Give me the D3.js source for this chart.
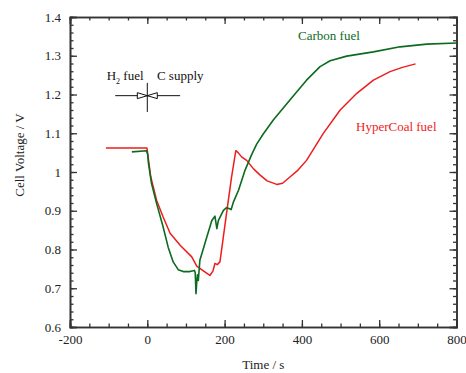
<!DOCTYPE html>
<html>
<head>
<meta charset="utf-8">
<script src="https://cdn.jsdelivr.net/npm/d3@7"></script>
<style>
  body { margin: 0; background: #fff; }
  svg text { font-family: "Liberation Serif", "DejaVu Serif", serif !important; }
</style>
</head>
<body>
<div id="chart"></div>
<script>
// values
var carbonTime = [-40, -2, 1, 3, 11, 24, 41, 54, 67, 80, 93, 110, 122, 124, 126, 128, 130, 132, 136, 145, 154, 167, 175, 180, 184, 197, 205, 213, 217, 223, 236, 253, 270, 283, 300, 326, 369, 412, 447, 473, 516, 585, 654, 723, 800];
var carbonVolt = [1.052, 1.055, 1.045, 1.022, 0.970, 0.919, 0.858, 0.806, 0.768, 0.748, 0.743, 0.743, 0.746, 0.740, 0.686, 0.716, 0.735, 0.720, 0.772, 0.802, 0.832, 0.875, 0.886, 0.854, 0.875, 0.901, 0.908, 0.905, 0.903, 0.923, 0.953, 1.005, 1.045, 1.072, 1.098, 1.134, 1.186, 1.237, 1.272, 1.287, 1.299, 1.310, 1.323, 1.330, 1.333];

var coalTime = [-107, -1, 2, 9, 24, 41, 59, 85, 115, 128, 145, 162, 170, 175, 181, 188, 205, 218, 229, 235, 244, 257, 275, 292, 310, 335, 350, 369, 390, 412, 455, 499, 542, 585, 628, 660, 694];
var coalVolt = [1.062, 1.062, 1.040, 0.987, 0.927, 0.884, 0.842, 0.811, 0.781, 0.757, 0.745, 0.733, 0.745, 0.764, 0.761, 0.768, 0.893, 0.987, 1.055, 1.050, 1.039, 1.030, 1.008, 0.992, 0.977, 0.968, 0.971, 0.987, 1.005, 1.030, 1.099, 1.160, 1.203, 1.237, 1.259, 1.270, 1.279];

var xTicks = [-200, 0, 200, 400, 600, 800];
var yTicks = [0.6, 0.7, 0.8, 0.9, 1.0, 1.1, 1.2, 1.3, 1.4];

var green = "#0b6b1e", red = "#ee1c1c", axisCol = "#333";
var serif = "'Liberation Serif', 'DejaVu Serif', serif";

var W = 466, H = 373;
var margin = {top: 17, right: 9.5, bottom: 46, left: 70}
  , width = W - margin.left - margin.right
  , height = H - margin.top - margin.bottom;

var svg = d3.select("#chart").append("svg")
    .attr("width", W)
    .attr("height", H)
    .style("font-family", serif)
  .append("g")
    .attr("transform", "translate(" + margin.left + "," + margin.top + ")");

var x = d3.scaleLinear().domain([-200, 800]).range([0, width]);
var y = d3.scaleLinear().domain([0.6, 1.4]).range([height, 0]);

var minorX = d3.range(-200, 801, 50);
var minorY = d3.range(0, 41).map(function(d) { return 0.6 + d * 0.02; });
var fmtX = function(d) { return String(d); };  // plain hyphen, not unicode minus
var fmtY = function(d) { return String(+d.toFixed(1)); };

// axes, ticks pointing inward on all four sides
function styleAxis(g) {
  g.attr("font-family", serif);
  g.select(".domain").attr("stroke", axisCol).attr("stroke-width", 1.6);
  g.selectAll(".tick line").attr("stroke", axisCol).attr("stroke-width", 1.3);
  g.selectAll(".tick text").attr("fill", "#222").style("font-size", "13px").style("font-family", serif);
}

svg.append("g").attr("transform", "translate(0," + height + ")")
  .call(d3.axisBottom(x).tickValues(minorX).tickSize(-3.5).tickFormat("")).call(styleAxis);
svg.append("g").attr("transform", "translate(0," + height + ")")
  .call(d3.axisBottom(x).tickValues(xTicks).tickSize(-7).tickPadding(8).tickFormat(fmtX)).call(styleAxis);
svg.append("g")
  .call(d3.axisTop(x).tickValues(minorX).tickSize(-3.5).tickFormat("")).call(styleAxis);
svg.append("g")
  .call(d3.axisTop(x).tickValues(xTicks).tickSize(-7).tickFormat("")).call(styleAxis);

svg.append("g")
  .call(d3.axisLeft(y).tickValues(minorY).tickSize(-3.5).tickFormat("")).call(styleAxis);
svg.append("g")
  .call(d3.axisLeft(y).tickValues(yTicks).tickSize(-7).tickPadding(9).tickFormat(fmtY)).call(styleAxis);
svg.append("g").attr("transform", "translate(" + width + ",0)")
  .call(d3.axisRight(y).tickValues(minorY).tickSize(-3.5).tickFormat("")).call(styleAxis);
svg.append("g").attr("transform", "translate(" + width + ",0)")
  .call(d3.axisRight(y).tickValues(yTicks).tickSize(-7).tickFormat("")).call(styleAxis);

// axis titles
svg.append("text")
  .attr("x", width / 2).attr("y", height + 42)
  .attr("text-anchor", "middle").style("font-size", "13px").attr("fill", "#222")
  .text("Time / s");
svg.append("text")
  .attr("transform", "translate(" + (-46) + "," + (y(1.0) - 17) + ") rotate(-90)")
  .attr("text-anchor", "middle").style("font-size", "13px").attr("fill", "#222")
  .text("Cell Voltage / V");

// curves
var line = d3.line()
  .x(function(d) { return x(d[0]) })
  .y(function(d) { return y(d[1]) });

svg.append("path")
  .datum(d3.zip(coalTime, coalVolt))
  .attr("fill", "none").attr("stroke", red).attr("stroke-width", 1.5)
  .attr("stroke-linejoin", "round")
  .attr("d", line);
svg.append("path")
  .datum(d3.zip(carbonTime, carbonVolt))
  .attr("fill", "none").attr("stroke", green).attr("stroke-width", 1.6)
  .attr("stroke-linejoin", "round")
  .attr("d", line);

svg.append("text")
  .attr("x", x(390)).attr("y", y(1.35) + 4)
  .style("font-size", "13px").attr("fill", green)
  .text("Carbon fuel");
svg.append("text")
  .attr("x", x(540)).attr("y", y(1.12) + 5)
  .style("font-size", "13px").attr("fill", red)
  .text("HyperCoal fuel");

// H2 / C supply marker
var ann = svg.append("g").attr("stroke", "#111").attr("stroke-width", 1).attr("fill", "none");
ann.append("line").attr("x1", x(-83)).attr("x2", x(85)).attr("y1", y(1.197)).attr("y2", y(1.197));
ann.append("line").attr("x1", x(0)).attr("x2", x(0)).attr("y1", y(1.23)).attr("y2", y(1.155));
ann.append("path").attr("fill", "#fff")
  .attr("d", "M" + (x(0) - 10) + "," + (y(1.197) - 3) + "L" + x(0) + "," + y(1.197) + "L" + (x(0) - 10) + "," + (y(1.197) + 3) + "Z");
ann.append("path").attr("fill", "#fff")
  .attr("d", "M" + (x(0) + 10) + "," + (y(1.197) - 3) + "L" + x(0) + "," + y(1.197) + "L" + (x(0) + 10) + "," + (y(1.197) + 3) + "Z");

var h2 = svg.append("text")
  .attr("x", x(-105)).attr("y", y(1.247) + 4)
  .style("font-size", "13px").attr("fill", "#111");
h2.append("tspan").text("H");
h2.append("tspan").attr("dy", 4).style("font-size", "8px").text("2");
h2.append("tspan").attr("dy", -4).text(" fuel");
svg.append("text")
  .attr("x", x(25)).attr("y", y(1.247) + 4)
  .style("font-size", "13px").attr("fill", "#111")
  .text("C supply");
</script>
</body>
</html>
